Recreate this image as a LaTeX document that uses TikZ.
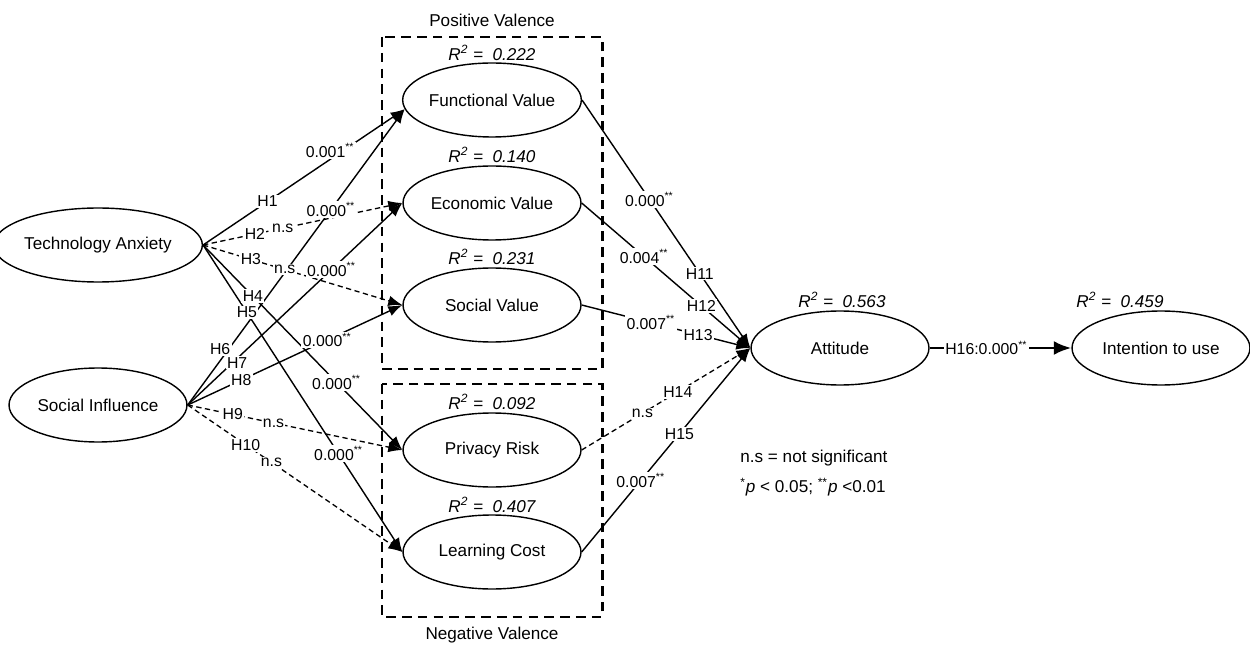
\documentclass[tikz,border=0pt]{standalone}
\usepackage{fontspec}
\setmainfont{Liberation Sans}
\usetikzlibrary{shapes.geometric,arrows.meta}
\begin{document}
\begin{tikzpicture}[x=0.02cm,y=-0.02cm,
  font=\fontsize{9.75}{11}\selectfont,
  var/.style={ellipse,draw,line width=0.8pt,minimum width=3.56cm,minimum height=1.48cm,inner sep=0pt},
  rsq/.style={font=\fontsize{9.75}{11}\selectfont\itshape,inner sep=1pt},
  sol/.style={line width=0.8pt,-{Latex[length=8pt,width=6pt]}},
  das/.style={line width=0.75pt,dash pattern=on 3pt off 2pt,-{Latex[length=8pt,width=6pt]}},
  lab/.style={fill=white,inner sep=0.8pt,font=\fontsize{9}{10}\selectfont},
  grp/.style={draw,line width=1.7pt,dash pattern=on 5.5pt off 3.5pt}]
\useasboundingbox (0,0) rectangle (1250,648);

% group boxes
\draw[grp] (382,37) rectangle (602,369);
\draw[grp] (382,384) rectangle (602,617);
\node (pv) at (492,20) {Positive Valence};
\node (nv) at (492,635) {Negative Valence};

% constructs
\node[var] (ta) at (98,245) {Technology Anxiety};
\node[var] (si) at (98,405) {Social Influence};
\node[var] (fv) at (492,100) {Functional Value};
\node[var] (ev) at (492,203) {Economic Value};
\node[var] (sv) at (492,305) {Social Value};
\node[var] (pr) at (492,450) {Privacy Risk};
\node[var] (lc) at (492,552) {Learning Cost};
\node[var] (at) at (840,348) {Attitude};
\node[var] (iu) at (1161,348) {Intention to use};

% R squared
\node[rsq] (r1) at (492,53) {R\textsuperscript{2} =\ \ 0.222};
\node[rsq] (r2) at (492,155) {R\textsuperscript{2} =\ \ 0.140};
\node[rsq] (r3) at (492,257) {R\textsuperscript{2} =\ \ 0.231};
\node[rsq] (r4) at (492,402) {R\textsuperscript{2} =\ \ 0.092};
\node[rsq] (r5) at (492,505) {R\textsuperscript{2} =\ \ 0.407};
\node[rsq] (r6) at (842,300) {R\textsuperscript{2} =\ \ 0.563};
\node[rsq] (r7) at (1120,300) {R\textsuperscript{2} =\ \ 0.459};

% connectors
\draw[sol] (ta.east) -- (fv.186);
\draw[das] (ta.east) -- (ev.west);
\draw[das] (ta.east) -- (sv.west);
\draw[sol] (ta.east) -- (pr.west);
\draw[sol] (ta.east) -- (lc.west);
\draw[sol] (si.east) -- (fv.186);
\draw[sol] (si.east) -- (ev.west);
\draw[sol] (si.east) -- (sv.west);
\draw[das] (si.east) -- (pr.west);
\draw[das] (si.east) -- (lc.west);
\draw[sol] (fv.east) -- (at.west);
\draw[sol] (ev.east) -- (at.west);
\draw[sol] (sv.east) -- (at.west);
\draw[das] (pr.east) -- (at.west);
\draw[sol] (lc.east) -- (at.west);
\draw[line width=1.6pt,-{Latex[length=10pt,width=8pt]}] (at.east) -- (iu.west);

% labels
\path (ta.east) -- (fv.186) node[lab,pos=.32]{H1} node[lab,pos=.63,yshift=5pt]{0.001\textsuperscript{**}};
\path (ta.east) -- (ev.west) node[lab,pos=.26]{H2} node[lab,pos=.40]{n.s};
\path (ta.east) -- (sv.west) node[lab,pos=.24]{H3} node[lab,pos=.41]{n.s};
\path (ta.east) -- (pr.west) node[lab,pos=.25]{H4} node[lab,pos=.67]{0.000\textsuperscript{**}};
\path (ta.east) -- (lc.west) node[lab,pos=.22]{H5} node[lab,pos=.68]{0.000\textsuperscript{**}};
\path (si.east) -- (fv.186) node[lab,pos=.19,xshift=-5pt]{H6} node[lab,pos=.66]{0.000\textsuperscript{**}};
\path (si.east) -- (ev.west) node[lab,pos=.21,xshift=2.5pt]{H7} node[lab,pos=.67]{0.000\textsuperscript{**}};
\path (si.east) -- (sv.west) node[lab,pos=.25]{H8} node[lab,pos=.65]{0.000\textsuperscript{**}};
\path (si.east) -- (pr.west) node[lab,pos=.21]{H9} node[lab,pos=.40]{n.s};
\path (si.east) -- (lc.west) node[lab,pos=.27]{H10} node[lab,pos=.39]{n.s};
\path (fv.east) -- (at.west) node[lab,pos=.40]{0.000\textsuperscript{**}} node[lab,pos=.70]{H11};
\path (ev.east) -- (at.west) node[lab,pos=.37]{0.004\textsuperscript{**}} node[lab,pos=.71]{H12};
\path (sv.east) -- (at.west) node[lab,pos=.41]{0.007\textsuperscript{**}} node[lab,pos=.69]{H13};
\path (pr.east) -- (at.west) node[lab,pos=.36]{n.s} node[lab,pos=.57]{H14};
\path (lc.east) -- (at.west) node[lab,pos=.35]{0.007\textsuperscript{**}} node[lab,pos=.58]{H15};
\path (at.east) -- (iu.west) node[lab,pos=.40]{H16:0.000\textsuperscript{**}};

% legend
\node[anchor=west,inner sep=0pt] (leg1) at (740,458) {n.s = not significant};
\node[anchor=west,inner sep=0pt] (leg2) at (740,487) {\textsuperscript{*}\textit{p} < 0.05; \textsuperscript{**}\textit{p} <0.01};
\end{tikzpicture}
\end{document}
